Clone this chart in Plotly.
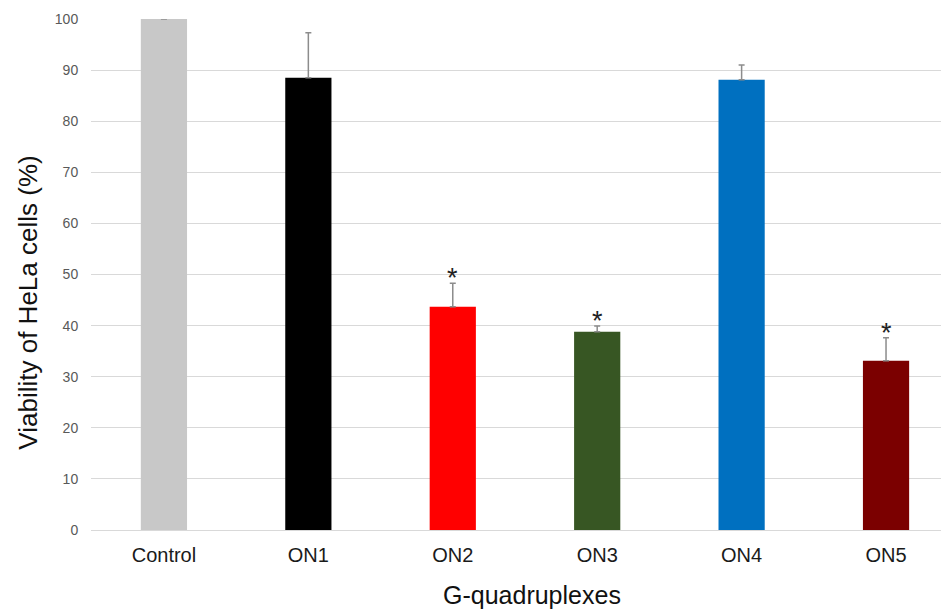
import plotly.graph_objects as go

categories = ["Control", "ON1", "ON2", "ON3", "ON4", "ON5"]
viability = [100.0, 88.5, 43.7, 38.8, 88.1, 33.1]
errors = [0.0, 8.8, 4.6, 1.1, 2.9, 4.5]
significant = [False, False, True, True, False, True]
bar_colors = ["#c8c8c8", "#000000", "#ff0000", "#375623", "#0070c0", "#7b0000"]
y_ticks = [0, 10, 20, 30, 40, 50, 60, 70, 80, 90, 100]

FONT = "Arial, Liberation Sans, sans-serif"

fig = go.Figure()
fig.add_trace(go.Bar(
    x=list(range(len(categories))),
    y=viability,
    width=0.32,
    marker=dict(color=bar_colors, line=dict(width=0)),
    error_y=dict(type="data", array=errors, arrayminus=[0] * len(errors),
                 symmetric=False, visible=True,
                 color="#8c8c8c", thickness=1.5, width=3),
    hoverinfo="skip",
))

for i, (v, e, s) in enumerate(zip(viability, errors, significant)):
    if s:
        fig.add_annotation(x=i, y=v + e, text="*", showarrow=False,
                           yanchor="middle", yshift=5,
                           font=dict(family=FONT, size=27, color="#222222"))

fig.add_annotation(xref="paper", yref="paper", x=-0.0734, y=0.445,
                   text="Viability of HeLa cells (%)", textangle=-90,
                   showarrow=False, xanchor="center", yanchor="middle",
                   font=dict(family=FONT, size=26, color="#111111"))
fig.add_annotation(xref="paper", yref="paper", x=0.514, y=-0.1585,
                   text="G-quadruplexes", showarrow=False,
                   xanchor="center", yanchor="bottom",
                   font=dict(family=FONT, size=25, color="#111111"))

fig.update_layout(
    width=941, height=604,
    margin=dict(l=83, r=0, t=11, b=82),
    plot_bgcolor="white", paper_bgcolor="white",
    showlegend=False,
    font=dict(family=FONT),
)
fig.update_xaxes(
    range=[-0.505, 5.436],
    tickmode="array", tickvals=list(range(len(categories))), ticktext=categories,
    tickfont=dict(family=FONT, size=20, color="#1a1a1a"),
    ticks="outside", ticklen=7, tickcolor="rgba(0,0,0,0)",
    showgrid=False, showline=False, zeroline=False,
)
fig.update_yaxes(
    range=[0, 100], tickvals=y_ticks,
    tickfont=dict(family=FONT, size=14, color="#595959"),
    ticks="outside", ticklen=9, tickcolor="rgba(0,0,0,0)",
    showgrid=True, gridcolor="#d9d9d9", gridwidth=1,
    zeroline=True, zerolinecolor="#d9d9d9", zerolinewidth=1,
    showline=False,
)

fig.write_html("out.html")
